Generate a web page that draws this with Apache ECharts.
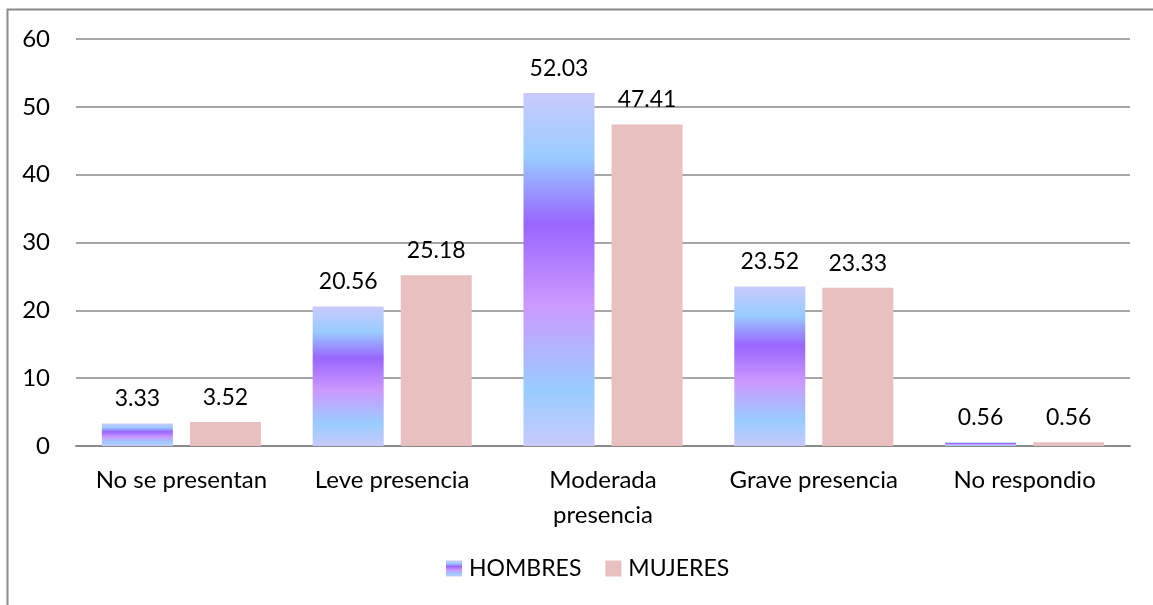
<!DOCTYPE html>
<html>
<head>
<meta charset="utf-8">
<script src="https://cdn.jsdelivr.net/npm/echarts@6/dist/echarts.min.js"></script>
<style>
  html, body { margin: 0; padding: 0; background: #fff; }
  #chart { width: 1153px; height: 605px; }
</style>
</head>
<body>
<div id="chart"></div>
<script>
// Presence levels by sex (percent)
const categories = ['No se presentan', 'Leve presencia', 'Moderada\npresencia', 'Grave presencia', 'No respondio'];
const hombres = [3.33, 20.56, 52.03, 23.52, 0.56];
const mujeres = [3.52, 25.18, 47.41, 23.33, 0.56];
const yTicks = { min: 0, max: 60, interval: 10 };

const FONT = 'Lato';

const hombresFill = new echarts.graphic.LinearGradient(0, 0, 0, 1, [
  { offset: 0.00, color: '#cacafc' },
  { offset: 0.18, color: '#99ccff' },
  { offset: 0.37, color: '#9966ff' },
  { offset: 0.60, color: '#cc99ff' },
  { offset: 0.84, color: '#99ccff' },
  { offset: 1.00, color: '#c8cafc' }
]);
const mujeresFill = '#e8c0c0';

const valueLabel = { show: true, position: 'top', distance: 13, fontFamily: FONT, fontSize: 23, color: '#000' };

const chart = echarts.init(document.getElementById('chart'), null, { renderer: 'canvas' });

chart.setOption({
  animation: false,
  textStyle: { fontFamily: FONT },
  graphic: [{
    type: 'rect',
    shape: { x: 7.5, y: 9.5, width: 1300, height: 800 },
    style: { fill: 'none', stroke: '#8a8a8a', lineWidth: 2 },
    silent: true
  }],
  grid: { left: 76, right: 23, top: 39, bottom: 159, containLabel: false },
  legend: {
    bottom: 20,
    left: 441,
    itemWidth: 16,
    itemHeight: 16,
    itemGap: 24,
    icon: 'rect',
    textStyle: { fontFamily: FONT, fontSize: 23, color: '#000', padding: [0, 0, 0, 2] },
    data: ['HOMBRES', 'MUJERES']
  },
  xAxis: {
    type: 'category',
    data: categories,
    axisTick: { show: false },
    axisLine: { lineStyle: { color: '#8a8a8a', width: 2 } },
    axisLabel: { margin: 17, fontFamily: FONT, fontSize: 24, color: '#000', lineHeight: 35, interval: 0 }
  },
  yAxis: {
    type: 'value',
    min: yTicks.min,
    max: yTicks.max,
    interval: yTicks.interval,
    axisLine: { show: false },
    axisTick: { show: false },
    splitLine: { lineStyle: { color: '#8a8a8a', width: 1.5 } },
    axisLabel: { margin: 26, fontFamily: FONT, fontSize: 24, color: '#000' }
  },
  series: [
    {
      name: 'HOMBRES',
      type: 'bar',
      data: hombres,
      barWidth: 71,
      barGap: '24%',
      itemStyle: { color: hombresFill },
      label: valueLabel
    },
    {
      name: 'MUJERES',
      type: 'bar',
      data: mujeres,
      barWidth: 71,
      barGap: '24%',
      itemStyle: { color: mujeresFill },
      label: valueLabel
    }
  ]
});
</script>
</body>
</html>
